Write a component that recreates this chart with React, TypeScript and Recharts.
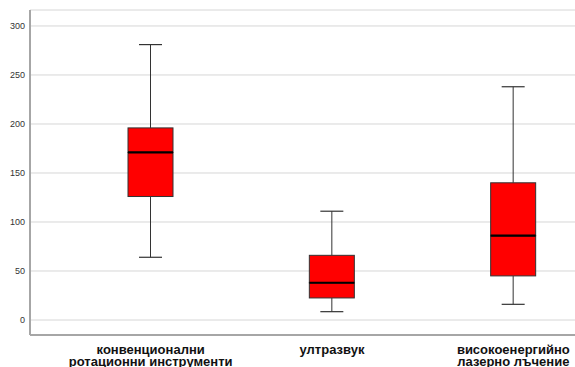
import React from 'react';
import { BarChart, Bar, XAxis, YAxis, CartesianGrid } from 'recharts';

const categories = ['конвенционални\nротационни инструменти', 'ултразвук', 'високоенергийно\nлазерно лъчение'];
const minValues = [64, 8.5, 16];
const q1Values = [126, 22.5, 45];
const medianValues = [171, 38, 86];
const q3Values = [196, 66, 140];
const maxValues = [281, 111, 238];
const yTicks = [0, 50, 100, 150, 200, 250, 300];

const data = categories.map((name, i) => ({
  name,
  base: minValues[i],
  lowWhisker: q1Values[i] - minValues[i],
  lowBox: medianValues[i] - q1Values[i],
  highBox: q3Values[i] - medianValues[i],
  highWhisker: maxValues[i] - q3Values[i],
}));

type ShapeProps = { x?: number; y?: number; width?: number; height?: number };

const CAP = 23;
const LINE = '#333333';

const Empty = () => <g />;

const LowWhisker = ({ x = 0, y = 0, width = 0, height = 0 }: ShapeProps) => {
  const cx = x + width / 2;
  return (
    <g>
      <line x1={cx} x2={cx} y1={y} y2={y + height} stroke={LINE} strokeWidth={1} />
      <line x1={cx - CAP / 2} x2={cx + CAP / 2} y1={y + height} y2={y + height} stroke={LINE} strokeWidth={1.2} />
    </g>
  );
};

const HighWhisker = ({ x = 0, y = 0, width = 0, height = 0 }: ShapeProps) => {
  const cx = x + width / 2;
  return (
    <g>
      <line x1={cx} x2={cx} y1={y} y2={y + height} stroke={LINE} strokeWidth={1} />
      <line x1={cx - CAP / 2} x2={cx + CAP / 2} y1={y} y2={y} stroke={LINE} strokeWidth={1.2} />
    </g>
  );
};

const LowBox = ({ x = 0, y = 0, width = 0, height = 0 }: ShapeProps) => (
  <rect x={x} y={y} width={width} height={height} fill="#ff0000" stroke={LINE} strokeWidth={1} />
);

const HighBox = ({ x = 0, y = 0, width = 0, height = 0 }: ShapeProps) => (
  <g>
    <rect x={x} y={y} width={width} height={height} fill="#ff0000" stroke={LINE} strokeWidth={1} />
    <line x1={x} x2={x + width} y1={y + height} y2={y + height} stroke="#000" strokeWidth={2.2} />
  </g>
);

const CategoryTick = (props: { x?: number; y?: number; payload?: { value: string } }) => {
  const { x = 0, y = 0, payload } = props;
  const lines = (payload?.value ?? '').split('\n');
  return (
    <text x={x} y={y} textAnchor="middle" fontSize={13} fontWeight="bold" fill="#111" fontFamily="Liberation Sans, Arial, sans-serif">
      {lines.map((line, i) => (
        <tspan key={i} x={x} dy={i === 0 ? 10.5 : 12.5}>{line}</tspan>
      ))}
    </text>
  );
};

export default function App() {
  return (
    <div style={{ position: 'fixed', left: 0, top: 0, width: 575, height: 367, overflow: 'hidden', background: '#fff' }}>
      <BarChart
        width={604}
        height={367}
        data={data}
        margin={{ top: 10, right: 0, left: 0, bottom: 0 }}
        barSize={45}
      >
        <CartesianGrid vertical={false} stroke="#d6d6d6" strokeWidth={1} />
        <XAxis
          dataKey="name"
          interval={0}
          height={32}
          padding={{ left: 30, right: 0 }}
          tickLine={false}
          axisLine={{ stroke: '#a6a6a6', strokeWidth: 2 }}
          tick={<CategoryTick />}
        />
        <YAxis
          width={30}
          domain={[-15.3, 316.3]}
          ticks={yTicks}
          allowDataOverflow
          tickLine={false}
          tickSize={3}
          tickMargin={2}
          axisLine={{ stroke: '#a6a6a6', strokeWidth: 2 }}
          tick={{ fontSize: 9, fill: '#333', fontFamily: 'Liberation Sans, Arial, sans-serif' }}
        />
        <Bar dataKey="base" stackId="box" shape={<Empty />} isAnimationActive={false} />
        <Bar dataKey="lowWhisker" stackId="box" shape={<LowWhisker />} isAnimationActive={false} />
        <Bar dataKey="lowBox" stackId="box" shape={<LowBox />} isAnimationActive={false} />
        <Bar dataKey="highBox" stackId="box" shape={<HighBox />} isAnimationActive={false} />
        <Bar dataKey="highWhisker" stackId="box" shape={<HighWhisker />} isAnimationActive={false} />
      </BarChart>
    </div>
  );
}
